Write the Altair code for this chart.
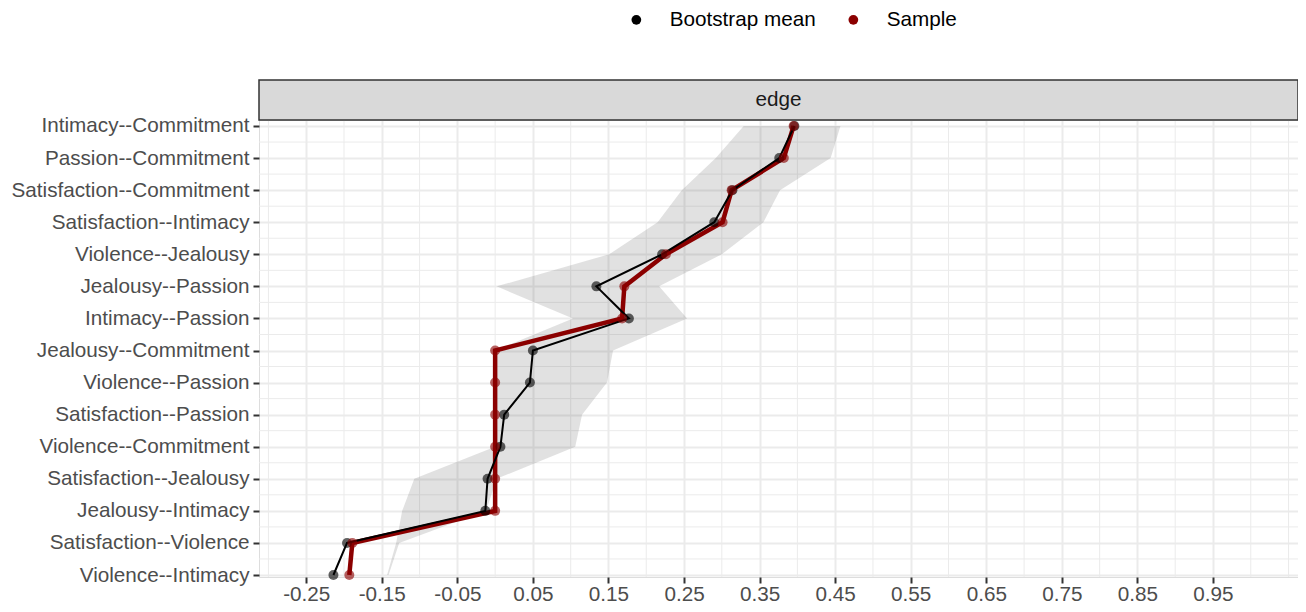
import json
import altair as alt
import pandas as pd

# ---------------- data ----------------
edges = [
    "Intimacy--Commitment", "Passion--Commitment", "Satisfaction--Commitment",
    "Satisfaction--Intimacy", "Violence--Jealousy", "Jealousy--Passion",
    "Intimacy--Passion", "Jealousy--Commitment", "Violence--Passion",
    "Satisfaction--Passion", "Violence--Commitment", "Satisfaction--Jealousy",
    "Jealousy--Intimacy", "Satisfaction--Violence", "Violence--Intimacy",
]
sample_vals = [0.395, 0.382, 0.313, 0.301, 0.226, 0.171, 0.168, 0.0, 0.0, 0.0,
               0.0, 0.0, 0.0, -0.189, -0.193]
boot_vals = [0.396, 0.376, 0.314, 0.290, 0.221, 0.134, 0.177, 0.050, 0.046, 0.012,
             0.007, -0.010, -0.013, -0.196, -0.214]
ci_lower = [0.329, 0.292, 0.247, 0.215, 0.151, 0.002, 0.103, 0.0, 0.0, 0.0,
            0.0, -0.107, -0.123, -0.131, -0.143]
ci_upper = [0.457, 0.444, 0.377, 0.355, 0.300, 0.217, 0.254, 0.156, 0.148, 0.115,
            0.106, 0.002, -0.012, -0.127, -0.141]
x_ticks = [-0.25, -0.15, -0.05, 0.05, 0.15, 0.25, 0.35, 0.45, 0.55, 0.65, 0.75, 0.85, 0.95]
x_minor = [-0.3, -0.2, -0.1, 0.0, 0.1, 0.2, 0.3, 0.4, 0.5, 0.6, 0.7, 0.8, 0.9, 1.0, 1.05]
series = ["Bootstrap mean", "Sample"]
series_colors = ["#000000", "#8B0000"]
strip_label = ["edge"]

# ---------------- layout / style ----------------
W, H = 1039, 457
FONT = "Liberation Sans"
FS = 20.7
GRID = "#EBEBEB"

idx = list(range(len(edges)))
df = pd.DataFrame({"edge": edges, "idx": idx, "lower": ci_lower, "upper": ci_upper})
long = pd.DataFrame({
    "idx": idx + idx,
    "value": boot_vals + sample_vals,
    "series": [series[0]] * len(edges) + [series[1]] * len(edges),
})
minor_df = pd.DataFrame({"v": x_minor})
strip_df = pd.DataFrame({"label": strip_label})

xs = alt.Scale(domain=[-0.3125, 1.0625], nice=False, zero=False)
ys = alt.Scale(domain=[-0.187, 14.062], reverse=True, nice=False, zero=False)

x_axis = alt.Axis(
    values=x_ticks, labelExpr="replace(format(datum.value, '.2f'), '\u2212', '-')",
    title=None, grid=True, gridColor=GRID, gridWidth=2, domain=False,
    tickColor="#333333", tickWidth=2, tickSize=6, labelFontSize=FS,
    labelColor="#4D4D4D", labelFont=FONT, labelPadding=1,
)
y_axis = alt.Axis(
    values=idx, labelExpr=json.dumps(edges) + "[datum.value]",
    title=None, grid=True, gridColor=GRID, gridWidth=2, domain=False,
    tickColor="#333333", tickWidth=2, tickSize=6, labelFontSize=FS,
    labelColor="#4D4D4D", labelFont=FONT, labelPadding=4, labelLimit=0,
)


def X(field):
    return alt.X(field, type="quantitative", scale=xs, axis=x_axis)


def Y(field):
    return alt.Y(field, type="quantitative", scale=ys, axis=y_axis)


minor_v = alt.Chart(minor_df).mark_rule(color=GRID, strokeWidth=1).encode(x=X("v"))

minor_h = (
    alt.Chart(df)
    .transform_filter(f"datum.idx < {len(edges) - 1}")
    .transform_calculate(mid="datum.idx + 0.5")
    .mark_rule(color=GRID, strokeWidth=1)
    .encode(y=Y("mid"))
)

ribbon = (
    alt.Chart(df)
    .mark_area(orient="horizontal", color="#333333", opacity=0.15)
    .encode(y=Y("idx"), x=X("lower"), x2="upper")
)

red_line = (
    alt.Chart(long)
    .transform_filter(alt.datum.series == series[1])
    .mark_line(color=series_colors[1], strokeWidth=4.5)
    .encode(x=X("value"), y=Y("idx"), order="idx:Q")
)
black_line = (
    alt.Chart(long)
    .transform_filter(alt.datum.series == series[0])
    .mark_line(color=series_colors[0], strokeWidth=2)
    .encode(x=X("value"), y=Y("idx"), order="idx:Q")
)

points = (
    alt.Chart(long)
    .mark_circle(size=100, opacity=0.62)
    .encode(
        x=X("value"),
        y=Y("idx"),
        color=alt.Color(
            "series:N",
            scale=alt.Scale(domain=series, range=series_colors),
            legend=alt.Legend(
                orient="none", legendX=367, legendY=-111, direction="horizontal",
                title=None, labelFontSize=FS, labelColor="#000000", labelFont=FONT,
                symbolSize=95, symbolOpacity=1, symbolStrokeWidth=0,
                symbolType="circle", labelOffset=23, columnPadding=27,
            ),
        ),
    )
)

strip = alt.Chart(strip_df).mark_rect(
    fill="#D9D9D9", stroke="#333333", strokeWidth=1.5
).encode(x=alt.value(0), x2=alt.value(W), y=alt.value(-40), y2=alt.value(0))

strip_text = alt.Chart(strip_df).mark_text(
    font=FONT, fontSize=FS, color="#1A1A1A", baseline="middle", align="center"
).encode(x=alt.value(W / 2), y=alt.value(-20), text="label:N")

chart = (
    alt.layer(minor_v, minor_h, ribbon, red_line, black_line, points, strip, strip_text)
    .properties(
        width=W, height=H,
        autosize=alt.AutoSizeParams(type="none"),
        padding={"left": 251, "top": 112, "right": 0, "bottom": 27},
    )
    .configure_view(stroke="#333333", strokeWidth=1.5)
    .configure(font=FONT)
)

chart.save("out.html", embed_options={"renderer": "svg", "actions": False})
